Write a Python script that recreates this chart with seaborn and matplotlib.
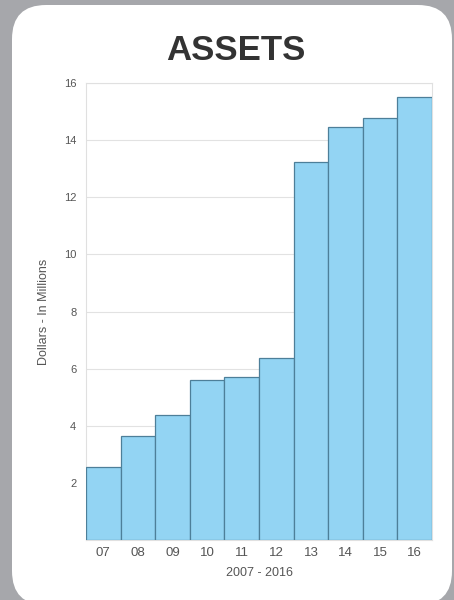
import matplotlib
matplotlib.use("Agg")
import matplotlib.pyplot as plt
from matplotlib.patches import FancyBboxPatch
import seaborn as sns
import pandas as pd

years = ["07", "08", "09", "10", "11", "12", "13", "14", "15", "16"]
assets = [2.55, 3.64, 4.37, 5.6, 5.7, 6.36, 13.25, 14.45, 14.78, 15.52]
yticks = [2, 4, 6, 8, 10, 12, 14, 16]

sns.set_theme(style="white")
plt.rcParams['font.family'] = ['Liberation Sans', 'DejaVu Sans']

fig = plt.figure(figsize=(4.54, 6.0), dpi=100)
fig.patch.set_facecolor("#a6a7ab")

W, H = 454, 600
card = FancyBboxPatch((12 / W, -5 / H), (452 - 12) / W, (600 + 5 - 5) / H,
                      boxstyle="round,pad=0,rounding_size=0.075",
                      transform=fig.transFigure, facecolor="white",
                      edgecolor="none", zorder=-5, mutation_aspect=W / H)
fig.patches.append(card)

ax = fig.add_axes([86 / W, 60 / H, (432 - 86) / W, (540 - 83) / H])
ax.set_facecolor("white")

df = pd.DataFrame({"year": years, "assets": assets})
sns.barplot(data=df, x="year", y="assets", ax=ax, color="#93d4f3",
            saturation=1, width=1.0, edgecolor="#4d7f99", linewidth=0.9,
            zorder=3)

ax.set_ylim(0, 16)
ax.set_xlim(-0.5, len(years) - 0.5)
ax.set_yticks(yticks)
ax.set_yticklabels([str(t) for t in yticks], fontsize=8, color="#555555")
ax.tick_params(axis="x", labelsize=9.5, colors="#555555", length=0, pad=5)
ax.tick_params(axis="y", length=0, pad=7)
ax.grid(axis="y", color="#e2e2e2", linewidth=0.8, zorder=0)
ax.set_axisbelow(True)
for s in ax.spines.values():
    s.set_color("#e0e0e0")
    s.set_linewidth(0.8)

ax.set_xlabel("2007 - 2016", fontsize=9, color="#555555", labelpad=6)
ax.set_ylabel("Dollars - In Millions", fontsize=9, color="#555555", labelpad=10)

fig.text(236 / W, 1 - 51 / H, "ASSETS", ha="center", va="center",
         fontsize=25, fontweight="bold", color="#333333")

fig.savefig("out.png", dpi=100, facecolor=fig.get_facecolor())
